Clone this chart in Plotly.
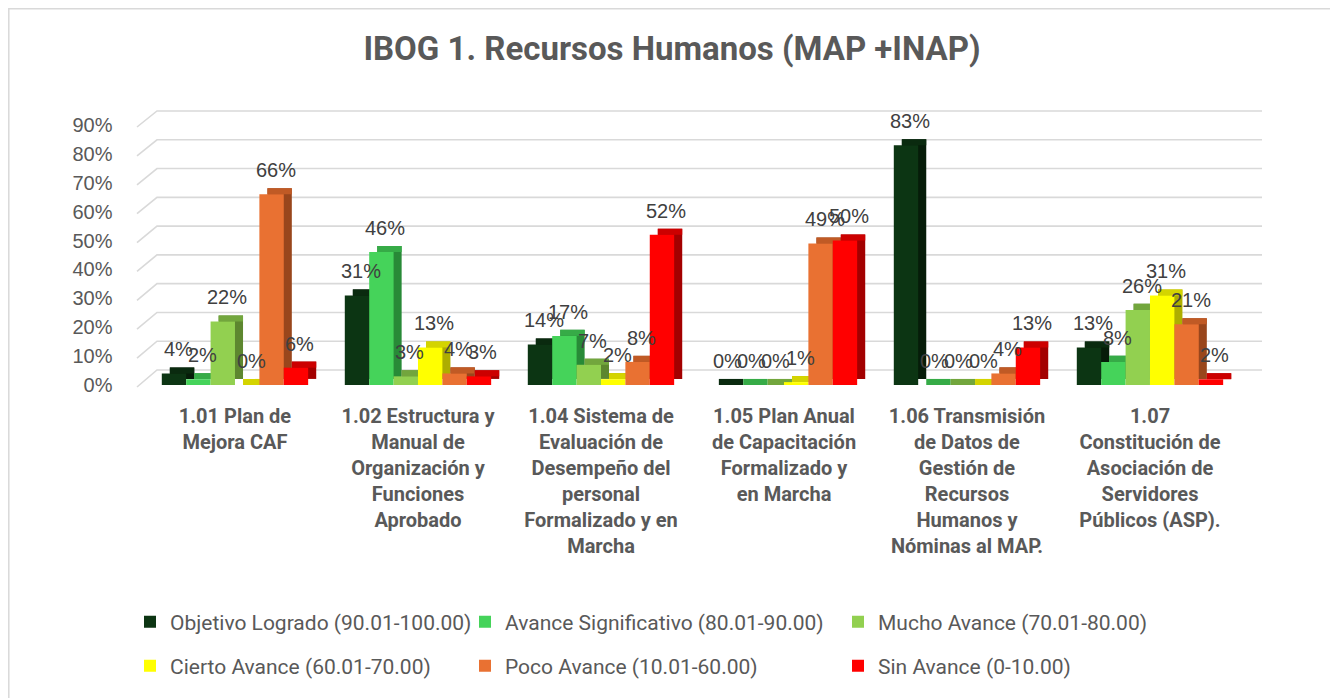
import plotly.graph_objects as go

# ---------------- data ----------------
categories = ["1.01", "1.02", "1.04", "1.05", "1.06", "1.07"]
category_labels = [
    "1.01 Plan de<br>Mejora CAF",
    "1.02 Estructura y<br>Manual de<br>Organización y<br>Funciones<br>Aprobado",
    "1.04 Sistema de<br>Evaluación de<br>Desempeño del<br>personal<br>Formalizado y en<br>Marcha",
    "1.05 Plan Anual<br>de Capacitación<br>Formalizado y<br>en Marcha",
    "1.06 Transmisión<br>de Datos de<br>Gestión de<br>Recursos<br>Humanos y<br>Nóminas al MAP.",
    "1.07<br>Constitución de<br>Asociación de<br>Servidores<br>Públicos (ASP).",
]
series_names = [
    "Objetivo Logrado (90.01-100.00)",
    "Avance Significativo (80.01-90.00)",
    "Mucho Avance (70.01-80.00)",
    "Cierto Avance (60.01-70.00)",
    "Poco Avance (10.01-60.00)",
    "Sin Avance (0-10.00)",
]
objetivo_logrado = [4, 31, 14, 0, 83, 13]
avance_significativo = [2, 46, 17, 0, 0, 8]
mucho_avance = [22, 3, 7, 0, 0, 26]
cierto_avance = [0, 13, 2, 1, 0, 31]
poco_avance = [66, 4, 8, 49, 4, 21]
sin_avance = [6, 3, 52, 50, 13, 2]
series_values = [objetivo_logrado, avance_significativo, mucho_avance,
                 cierto_avance, poco_avance, sin_avance]
y_ticks = [0, 10, 20, 30, 40, 50, 60, 70, 80, 90]

# ---------------- styles ----------------
front_colors = ["#0c3513", "#45d35a", "#92d050", "#ffff00", "#e97132", "#ff0000"]
top_colors = ["#0a2a0f", "#36ab47", "#72a63d", "#d4d400", "#c05a25", "#cc0000"]
side_colors = ["#061c09", "#288a37", "#5d872f", "#aeae00", "#99461c", "#a30000"]

PAGE_OFF = 8                      # browser body margin
W_FIG, H_FIG = 1338 - PAGE_OFF, 698 - PAGE_OFF
# plot area expressed in page (reference) pixels
L_REF, R_REF, T_REF, B_REF = 100, 1300, 100, 400
L, R, T, B = (L_REF - PAGE_OFF, R_REF - PAGE_OFF,
              T_REF - PAGE_OFF, B_REF - PAGE_OFF)
PW, PH = R - L, B - T


def fx(px):
    """page x pixel -> paper fraction"""
    return (px - L_REF) / PW


def fy(py):
    """page y pixel -> paper fraction"""
    return (B_REF - py) / PH


Y_MAX = 90
bar_w = 0.1333          # category units
group_start = -0.4
dx = 0.044              # depth shift (category units)
dy = 2.1                # depth shift (value units)

font_num = "Liberation Sans, Arial, sans-serif"
font_txt = "Roboto, sans-serif"
grey = "#595959"

fig = go.Figure()
xpos = list(range(len(categories)))

# legend positions (page pixels): text start x, row centre y
legend_x = [130, 465, 838, 130, 465, 838]
legend_y = [622, 622, 622, 666, 666, 666]
legend_ids = ["legend", "legend2", "legend3", "legend4", "legend5", "legend6"]

annotations = []
for j, (name, vals) in enumerate(zip(series_names, series_values)):
    off = group_start + j * bar_w
    # side face
    fig.add_trace(go.Bar(
        x=xpos, y=vals, base=[dy] * len(vals), offset=off + dx, width=bar_w,
        marker=dict(color=side_colors[j], line=dict(width=0)),
        showlegend=False, hoverinfo="skip"))
    # top face
    fig.add_trace(go.Bar(
        x=xpos, y=[dy] * len(vals), base=vals, offset=off + dx, width=bar_w,
        marker=dict(color=top_colors[j], line=dict(width=0)),
        showlegend=False, hoverinfo="skip"))
    # front face
    fig.add_trace(go.Bar(
        x=xpos, y=vals, offset=off, width=bar_w, name=name,
        marker=dict(color=front_colors[j], line=dict(width=0)),
        legend=legend_ids[j],
        hovertemplate="%{y}%<extra>" + name + "</extra>"))
    # value labels
    for xi, v in zip(xpos, vals):
        annotations.append(dict(
            x=xi + off + bar_w / 2 + dx / 2, y=v + dy, xref="x", yref="y",
            text=f"{v}%", showarrow=False, xanchor="center",
            yanchor="bottom", yshift=5,
            font=dict(family=font_num, size=20, color="#404040")))

# back-wall gridlines with their diagonal connectors
shapes = []
for v in y_ticks:
    front_y = 387 - v * (260 / Y_MAX)
    back_y = 370 - v * (259 / Y_MAX)
    shapes.append(dict(
        type="path", xref="paper", yref="paper", layer="below",
        path=(f"M {fx(137)},{fy(front_y)} L {fx(157)},{fy(back_y)} "
              f"L {fx(1262)},{fy(back_y)}"),
        line=dict(color="#d9d9d9", width=1.6)))
# outer chart border
shapes.append(dict(type="rect", xref="paper", yref="paper", layer="below",
                   x0=fx(8.8), x1=fx(1336), y0=fy(720), y1=fy(8.8),
                   line=dict(color="#d9d9d9", width=1.5)))

layout_legends = {}
for lid, lx, ly in zip(legend_ids, legend_x, legend_y):
    layout_legends[lid] = dict(
        orientation="h", x=fx(lx), xanchor="left", y=fy(ly), yanchor="middle",
        font=dict(family=font_txt, size=21, color=grey),
        bgcolor="rgba(0,0,0,0)", borderwidth=0)

fig.update_layout(
    width=W_FIG, height=H_FIG,
    margin=dict(l=L, r=W_FIG - R, t=T, b=H_FIG - B, autoexpand=False),
    paper_bgcolor="white", plot_bgcolor="rgba(0,0,0,0)",
    barmode="overlay",
    title=dict(text="<b>IBOG 1. Recursos Humanos (MAP +INAP)</b>",
               x=(672 - PAGE_OFF) / W_FIG, xref="container", xanchor="center",
               y=1 - (48 - PAGE_OFF) / H_FIG, yref="container",
               yanchor="middle",
               font=dict(family=font_txt, size=33, color=grey)),
    xaxis=dict(domain=[fx(143.5), fx(1241.5)], range=[-0.5, 5.5],
               tickmode="array", tickvals=xpos,
               ticktext=[f"<b>{t}</b>" for t in category_labels],
               showgrid=False, zeroline=False, showline=False, ticks="",
               ticklabelstandoff=17,
               tickfont=dict(family=font_txt, size=20, color=grey)),
    yaxis=dict(domain=[fy(385), fy(125)], range=[0, Y_MAX],
               tickmode="array", tickvals=y_ticks,
               ticktext=[f"{v}%" for v in y_ticks],
               showgrid=False, zeroline=False, showline=False, ticks="",
               ticklabelstandoff=30,
               tickfont=dict(family=font_num, size=20, color=grey)),
    shapes=shapes,
    annotations=annotations,
    **layout_legends,
)

fig.write_html("out.html")
